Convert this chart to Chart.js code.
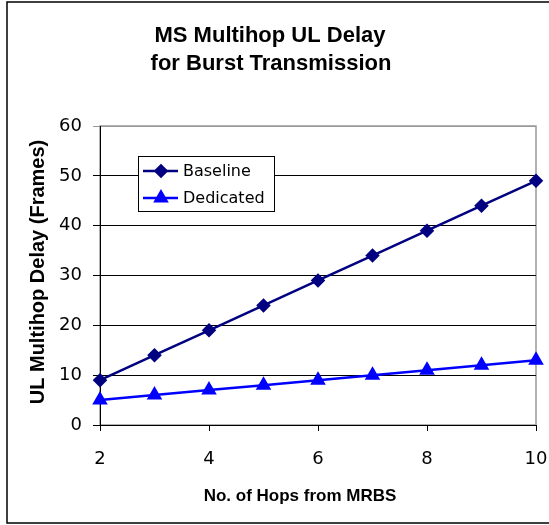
<!DOCTYPE html>
<html>
<head>
<meta charset="utf-8">
<script src="https://cdn.jsdelivr.net/npm/chart.js@4.4.1/dist/chart.umd.min.js"></script>
<style>
    body { margin: 0; background: #fff; }
    #wrap { width: 549px; height: 525px; position: relative; }
</style>
</head>
<body>
<div id="wrap"><canvas id="delayChart" width="549" height="525"></canvas></div>
<script>
// Chart data
const hops = [2, 3, 4, 5, 6, 7, 8, 9, 10];
const baseline = [9, 14, 19, 24, 29, 34, 39, 44, 49];
const dedicated = [5, 6, 7, 8, 9, 10, 11, 12, 13];
const seriesNames = ['Baseline', 'Dedicated'];
const titleLines = ['MS Multihop UL Delay', 'for Burst Transmission'];
const xTitle = 'No. of Hops from MRBS';
const yTitle = 'UL Multihop Delay (Frames)';

const FONT = 'Arial, "Liberation Sans", sans-serif';
const TICK_FONT = '"DejaVu Sans", sans-serif';

function toPoints(values) {
    return hops.map((h, i) => ({ x: h, y: values[i] }));
}

// frame, plot border, titles and the legend box
const decorPlugin = {
    id: 'decor',
    beforeDraw(chart) {
        const ctx = chart.ctx;
        const a = chart.chartArea;
        ctx.save();
        ctx.fillStyle = '#fff';
        ctx.fillRect(0, 0, chart.width, chart.height);
        // outer frame
        ctx.strokeStyle = '#000';
        ctx.lineWidth = 1.5;
        ctx.strokeRect(7, 2, 580, 521);
        // plot area border (gray)
        ctx.strokeStyle = '#999';
        ctx.lineWidth = 1.5;
        ctx.strokeRect(a.left, a.top, a.right - a.left, a.bottom - a.top);
        // chart title
        ctx.fillStyle = '#000';
        ctx.font = 'bold 22px ' + FONT;
        ctx.textAlign = 'center';
        ctx.textBaseline = 'alphabetic';
        ctx.fillText(titleLines[0], 270, 42);
        ctx.fillText(titleLines[1], 271, 70);
        // axis titles
        ctx.font = 'bold 17px ' + FONT;
        ctx.fillText(xTitle, 300, 500.5);
        ctx.save();
        ctx.translate(43.5, 272);
        ctx.rotate(-Math.PI / 2);
        ctx.font = 'bold 20px ' + FONT;
        ctx.fillText(yTitle, 0, 0);
        ctx.restore();
        ctx.restore();
    },
    afterDatasetsDraw(chart) {
        const ctx = chart.ctx;
        ctx.save();
        const box = { x: 138.5, y: 156.5, w: 136, h: 55 };
        ctx.fillStyle = '#fff';
        ctx.fillRect(box.x, box.y, box.w, box.h);
        ctx.strokeStyle = '#000';
        ctx.lineWidth = 1;
        ctx.strokeRect(box.x, box.y, box.w, box.h);
        chart.data.datasets.forEach((ds, i) => {
            const cy = 171 + i * 27;
            ctx.strokeStyle = ds.borderColor;
            ctx.lineWidth = ds.borderWidth;
            ctx.beginPath();
            ctx.moveTo(143, cy);
            ctx.lineTo(178, cy);
            ctx.stroke();
            ctx.fillStyle = ds.pointBackgroundColor;
            Chart.helpers.drawPoint(ctx, {
                pointStyle: ds.pointStyle,
                radius: ds.pointRadius,
                borderWidth: 1
            }, 161, cy);
            ctx.fillStyle = '#000';
            ctx.font = '16px ' + TICK_FONT;
            ctx.textAlign = 'left';
            ctx.textBaseline = 'middle';
            ctx.fillText(ds.label, 183, cy + 1);
        });
        ctx.restore();
    }
};

const ctx = document.getElementById('delayChart').getContext('2d');
new Chart(ctx, {
    type: 'line',
    data: {
        datasets: [{
            label: seriesNames[0],
            data: toPoints(baseline),
            borderColor: '#000080',
            backgroundColor: '#000080',
            pointBackgroundColor: '#000080',
            pointBorderColor: '#000080',
            pointStyle: 'rectRot',
            pointRadius: 5.5,
            borderWidth: 2.5,
            clip: false
        }, {
            label: seriesNames[1],
            data: toPoints(dedicated),
            borderColor: '#0000ff',
            backgroundColor: '#0000ff',
            pointBackgroundColor: '#0000ff',
            pointBorderColor: '#0000ff',
            pointStyle: 'triangle',
            pointRadius: 6.5,
            borderWidth: 2.5,
            clip: false
        }]
    },
    options: {
        responsive: false,
        animation: false,
        layout: {
            autoPadding: false,
            padding: { left: 0, right: 13, top: 126, bottom: 3 }
        },
        plugins: {
            legend: { display: false },
            title: { display: false },
            tooltip: { enabled: false }
        },
        scales: {
            x: {
                type: 'linear',
                min: 2,
                max: 10,
                afterFit: (scale) => {
                    scale.height = 97;
                    scale.paddingLeft = 0;
                    scale.paddingRight = 0;
                },
                ticks: {
                    stepSize: 2,
                    color: '#000',
                    padding: 18,
                    maxRotation: 0,
                    font: { family: TICK_FONT, size: 18 }
                },
                grid: {
                    drawOnChartArea: false,
                    drawTicks: true,
                    tickLength: 6,
                    color: '#000'
                },
                border: { color: '#000', width: 1 }
            },
            y: {
                min: 0,
                max: 60,
                afterFit: (scale) => {
                    scale.width = 100;
                    scale.paddingTop = 0;
                    scale.paddingBottom = 0;
                },
                ticks: {
                    stepSize: 10,
                    color: '#000',
                    padding: 11,
                    font: { family: TICK_FONT, size: 18 }
                },
                grid: {
                    color: (c) => c.tick && c.tick.value === 60 ? '#999' : '#000',
                    lineWidth: 1,
                    tickLength: 7
                },
                border: { color: '#000', width: 1 }
            }
        }
    },
    plugins: [decorPlugin]
});
</script>
</body>
</html>
